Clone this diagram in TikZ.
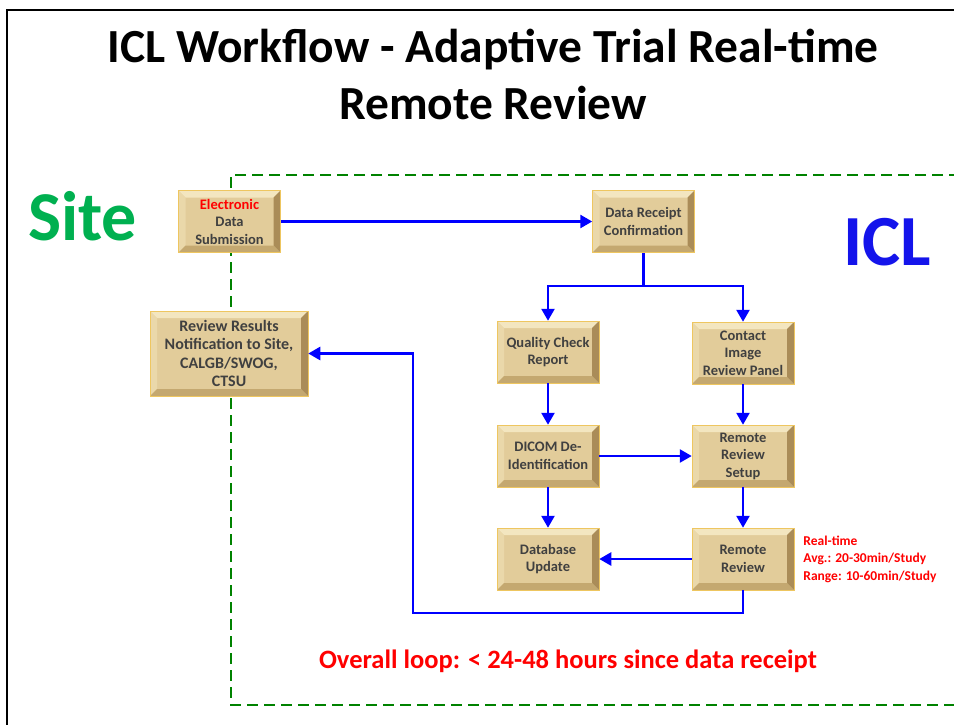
\documentclass[tikz,border=0pt]{standalone}
\usepackage{fontspec}
\setmainfont{Carlito}
\usetikzlibrary{calc, positioning, arrows.meta}
\definecolor{tanface}{RGB}{226,204,154}
\definecolor{tanlight}{RGB}{243,230,192}
\definecolor{tanside}{RGB}{234,216,170}
\definecolor{tandark}{RGB}{170,140,88}
\definecolor{tanmid}{RGB}{196,168,112}
\definecolor{tanedge}{RGB}{238,198,96}
\definecolor{boxtext}{RGB}{64,64,64}
\definecolor{sitegreen}{RGB}{0,176,80}
\definecolor{dashgreen}{RGB}{0,130,0}
\definecolor{iclblue}{RGB}{20,20,235}
\definecolor{flowblue}{RGB}{0,0,255}
\tikzset{
  bevelbox/.style={draw=tanedge, line width=0.5pt, fill=tanface, text=boxtext, align=center,
    font=\fontsize{14.5}{17.5}\selectfont\bfseries, minimum width=102pt, minimum height=62pt, inner sep=2pt,
    path picture={
      \fill[tanlight] (path picture bounding box.north west) -- (path picture bounding box.north east) -- ([shift={(-7pt,-7pt)}]path picture bounding box.north east) -- ([shift={(7pt,-7pt)}]path picture bounding box.north west) -- cycle;
      \fill[tanside] (path picture bounding box.north west) -- ([shift={(7pt,-7pt)}]path picture bounding box.north west) -- ([shift={(7pt,7pt)}]path picture bounding box.south west) -- (path picture bounding box.south west) -- cycle;
      \fill[tandark] (path picture bounding box.north east) -- (path picture bounding box.south east) -- ([shift={(-7pt,7pt)}]path picture bounding box.south east) -- ([shift={(-7pt,-7pt)}]path picture bounding box.north east) -- cycle;
      \fill[tanmid] (path picture bounding box.south west) -- (path picture bounding box.south east) -- ([shift={(-7pt,7pt)}]path picture bounding box.south east) -- ([shift={(7pt,7pt)}]path picture bounding box.south west) -- cycle;
    }},
  reviewbox/.style={bevelbox, minimum width=158pt, minimum height=85pt, font=\fontsize{16}{18.3}\selectfont\bfseries},
  flow/.style={draw=flowblue, line width=2.6pt, -{Triangle[length=12pt,width=13pt]}},
  flowline/.style={draw=flowblue, line width=2.6pt},
  note/.style={text=red, align=left, inner sep=0pt, font=\fontsize{13.5}{17.5}\selectfont\bfseries},
}

\begin{document}
\begin{tikzpicture}[x=1pt, y=-1pt]
\useasboundingbox (0,0) rectangle (954,724);
\draw[line width=2pt] (7,730) -- (7,10) -- (960,10);
\draw[dashgreen, line width=2.8pt, dash pattern=on 11pt off 6pt] (960,175) -- (231,175) -- (231,705) -- (960,705);

\node[font=\fontsize{47.5}{57}\selectfont\bfseries, align=center] (ttl) at (493,74) {ICL Workflow - Adaptive Trial Real-time\\Remote Review};
\node[font=\fontsize{70}{70}\selectfont\bfseries, text=sitegreen, anchor=base west, inner sep=0pt] (site) at (28,240) {Site};
\node[font=\fontsize{72}{72}\selectfont\bfseries, text=iclblue, anchor=base west, inner sep=0pt] (icl) at (843,265) {ICL};

\node[bevelbox] (eds) at (229.5,221.5) {\textcolor{red}{Electronic}\\Data\\Submission};
\node[reviewbox] (rrn) at (229,353.5) {Review Results\\Notification to Site,\\CALGB/SWOG,\\CTSU};
\node[bevelbox] (drc) at (643.5,221.5) {Data Receipt\\Confirmation};
\node[bevelbox] (qcr) at (548,352) {Quality Check\\Report};
\node[bevelbox] (cirp) at (743,353) {Contact\\Image\\Review Panel};
\node[bevelbox] (dcm) at (548,456) {DICOM De-\\Identification};
\node[bevelbox] (rrs) at (743,456) {Remote\\Review\\Setup};
\node[bevelbox] (db) at (548,559) {Database\\Update};
\node[bevelbox] (rr) at (743,559) {Remote\\Review};

\node[note, right=9pt of rr] (rtnote) {Real-time\\Avg.: 20-30min/Study\\Range: 10-60min/Study};
\node[text=red, font=\fontsize{26.5}{30}\selectfont\bfseries, anchor=base, inner sep=0pt] (loopnote) at (568,668) {Overall loop: < 24-48 hours since data receipt};

\coordinate (split) at (643.5,286);
\coordinate (loopbl) at (413,613);

\draw[flow] (eds) -- (drc);
\draw[flowline] (drc) -- (split);
\draw[flow] (split) -| (qcr);
\draw[flow] (split) -| (cirp);
\draw[flow] (qcr) -- (dcm);
\draw[flow] (cirp) -- (rrs);
\draw[flow] (dcm) -- (rrs);
\draw[flow] (dcm) -- (db);
\draw[flow] (rrs) -- (rr);
\draw[flow] (rr) -- (db);
\draw[flow] (rr) |- (loopbl) |- (rrn);
\end{tikzpicture}
\end{document}
